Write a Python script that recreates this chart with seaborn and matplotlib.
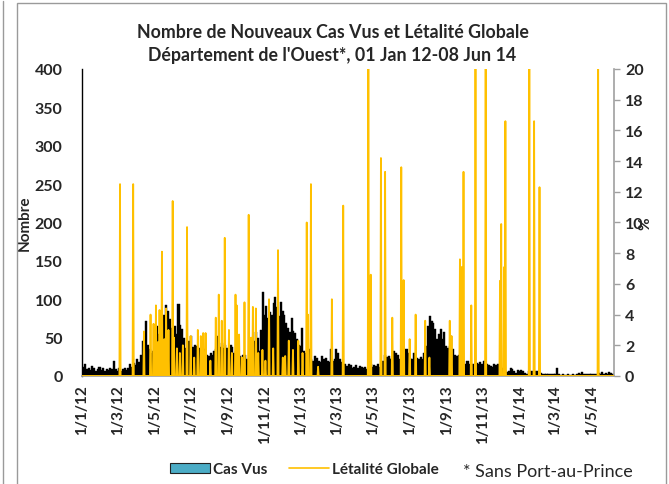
import numpy as np
import pandas as pd
import matplotlib
matplotlib.use("Agg")
import matplotlib.pyplot as plt
import seaborn as sns
from matplotlib.patches import Patch, Rectangle
from matplotlib.lines import Line2D

# ---------------- data ----------------
start_date = "2012-01-01"
n_days = 889
bin_days = 3
# Cas Vus, one value per 3-day period starting 1 Jan 2012
cas_vus = [12, 15, 9, 11, 8, 13, 10, 7, 9, 12, 8, 10, 7, 9, 8, 11, 9,
           20, 9, 7, 10, 6, 9, 11, 8, 10, 15,
           12, 17, 14, 22, 18, 28, 45, 38, 72, 40,
           35, 30, 33, 45, 65, 55, 78, 70, 80, 92,
           85, 74, 63, 60, 65, 55, 94, 67, 61, 50,
           37, 35, 45, 52, 38, 40, 39, 33, 36, 32,
           35, 33, 28, 26, 30, 28, 33, 35, 52, 38,
           43, 37, 40, 36, 33, 41, 38, 30, 33, 29,
           26, 24, 27, 28, 22, 20, 24, 35, 46, 57,
           50, 33, 60, 110, 80, 91, 75, 83, 80, 95,
           103, 90, 78, 96, 85, 80, 69, 62, 57, 75,
           59, 56, 48, 41, 39, 62, 33, 30, 28, 35,
           22, 20, 26, 24, 20, 18, 26, 22, 24, 20,
           18, 35, 20, 22, 35, 30, 22, 18, 11, 15,
           13, 16, 14, 11, 12, 14, 11, 13, 12, 10,
           12, 9, 8, 15, 12, 14, 13, 15, 12, 11,
           20, 28, 25, 26, 22, 24, 33, 30, 28, 22,
           20, 26, 25, 35, 30, 24, 22, 30, 27, 24,
           22, 25, 22, 30, 39, 65, 78, 72, 69, 61,
           48, 55, 61, 48, 57, 39, 37, 39, 52, 35,
           28, 26, 28, 26, 24, 15, 16, 20, 15, 14,
           16, 15, 17, 15, 18, 16, 20, 19, 15, 14,
           13, 12, 15, 14, 15, 11, 9, 10, 8, 5,
           6, 11, 9, 7, 4, 8, 7, 8, 6, 4,
           3, 7, 6, 7, 5, 7, 6, 5, 4, 3,
           2, 3, 2, 2, 3, 2, 3, 10, 2, 1,
           2, 1, 1, 2, 1, 1, 2, 1, 3, 4,
           3, 5, 2, 3, 2, 2, 3, 2, 3, 2,
           4, 3, 5, 3, 4, 3, 5, 4, 3, 4]

# Létalité Globale (%): days (since 1 Jan 2012) with a non-zero value, and the value
let_days = [63, 85, 103, 114, 119, 123, 126, 129, 133, 137, 140, 144, 151, 153, 158,
            163, 168, 175, 181, 187, 193, 198, 202, 206, 214, 223, 228, 233, 238,
            245, 250, 256, 258, 262, 267, 271, 278, 282, 285, 290, 294, 301, 306,
            312, 319, 327, 335, 339, 345, 352, 361, 368, 375, 377, 382, 394, 417,
            436, 478, 482, 499, 506, 518, 533, 537, 547, 557, 573, 580, 614, 617,
            631, 634, 637, 650, 657, 674, 698, 700, 705, 707, 747, 755, 764, 862]
let_vals = [12.5, 12.5, 2.9, 4.0, 3.4, 4.6, 2.2, 4.3, 8.1, 2.4, 4.4, 3.0, 11.4, 2.5, 1.8,
            1.5, 2.0, 9.7, 2.6, 1.2, 3.0, 2.6, 2.8, 2.8, 1.0, 3.8, 5.3, 3.6, 9.0,
            3.0, 1.5, 5.3, 4.6, 2.7, 1.2, 4.8, 10.5, 2.5, 4.5, 4.4, 1.5, 1.7, 1.0,
            5.0, 1.8, 8.2, 1.2, 1.3, 2.3, 1.7, 2.3, 1.5, 10.0, 4.0, 12.5, 0.6, 5.0,
            11.1, 20.0, 6.6, 14.2, 13.3, 3.8, 13.6, 6.25, 2.4, 4.0, 3.6, 1.2, 3.6, 2.6,
            7.6, 7.1, 13.3, 4.6, 20.0, 20.0, 6.2, 9.9, 7.1, 16.6, 20.0, 16.6, 12.3, 20.0]

tick_dates = ["2012-01-01", "2012-03-01", "2012-05-01", "2012-07-01", "2012-09-01",
              "2012-11-01", "2013-01-01", "2013-03-01", "2013-05-01", "2013-07-01",
              "2013-09-01", "2013-11-01", "2014-01-01", "2014-03-01", "2014-05-01"]
tick_labels = ["1/1/12", "1/3/12", "1/5/12", "1/7/12", "1/9/12", "1/11/12", "1/1/13",
               "1/3/13", "1/5/13", "1/7/13", "1/9/13", "1/11/13", "1/1/14", "1/3/14",
               "1/5/14"]

# ---------------- build tables ----------------
t0 = pd.Timestamp(start_date)
days = pd.date_range(t0, periods=n_days, freq="D")
let_series = np.zeros(n_days)
let_series[np.array(let_days)] = let_vals
df_let = pd.DataFrame({"date": days, "letalite": let_series})
bin_starts = pd.date_range(t0, periods=len(cas_vus), freq=f"{bin_days}D")
df_cas = pd.DataFrame({"date": bin_starts, "cas": cas_vus})

# ---------------- plot ----------------
sns.set_theme(style="white")
plt.rcParams["font.family"] = ["Lato", "DejaVu Sans"]

fig = plt.figure(figsize=(6.69, 4.85), dpi=100)
ax = fig.add_axes([0.1226, 0.2227, 0.7952, 0.633])

ax.bar(df_cas["date"], df_cas["cas"], width=pd.Timedelta(hours=bin_days * 24 + 10),
       align="edge", color="black", edgecolor="black", linewidth=0.3, zorder=2)
ax.set_ylim(0, 400)
ax.set_yticks(np.arange(0, 401, 50))
ax.set_xlim(t0 - pd.Timedelta(hours=12), t0 + pd.Timedelta(days=n_days - 0.5))

ax2 = ax.twinx()
sns.lineplot(data=df_let, x="date", y="letalite", ax=ax2, color="#FFC000",
             linewidth=1.3, zorder=3)
ax2.set_ylim(0, 20)
ax2.set_yticks(np.arange(0, 21, 2))
ax2.set_xlim(ax.get_xlim())

ax.set_xticks(pd.to_datetime(tick_dates))
ax.set_xticklabels(tick_labels, rotation=90, fontsize=11, fontweight="bold")
ax.tick_params(axis="x", length=0, pad=6)
ax.tick_params(axis="y", length=0, labelsize=11.5, pad=14)
for lab in ax.get_yticklabels():
    lab.set_fontweight("bold")
ax2.tick_params(axis="y", length=4, width=1, color="#A0A0A0", direction="out",
                labelsize=11.5, pad=4)
for lab in ax2.get_yticklabels():
    lab.set_fontweight("bold")
ax.set_xlabel("")
ax2.set_xlabel("")
ax.set_ylabel("Nombre", fontsize=11, fontweight="bold", labelpad=2)
ax2.set_ylabel("%", fontsize=11, fontweight="bold", labelpad=-4)

for a in (ax, ax2):
    a.spines["top"].set_visible(False)
    a.grid(False)
ax.spines["left"].set_color("black")
ax.spines["left"].set_linewidth(1.0)
ax.spines["right"].set_visible(False)
ax.spines["bottom"].set_color("#A0A0A0")
ax2.spines["left"].set_visible(False)
ax2.spines["bottom"].set_visible(False)
ax2.spines["right"].set_color("#A0A0A0")
ax2.spines["right"].set_linewidth(1.2)

fig.text(0.497, 0.934, "Nombre de Nouveaux Cas Vus et Létalité Globale",
         ha="center", va="center", fontsize=12.8, fontweight="bold")
fig.text(0.497, 0.886, "Département de l'Ouest*, 01 Jan 12-08 Jun 14",
         ha="center", va="center", fontsize=12.8, fontweight="bold")

handles = [Patch(facecolor="#4BACC6", edgecolor="#222222", linewidth=0.8),
           Line2D([0], [0], color="#FFC000", linewidth=1.2)]
fig.legend(handles, ["Cas Vus", "Létalité Globale"], loc="center",
           bbox_to_anchor=(0.455, 0.03), ncol=2, frameon=False,
           prop={"weight": "bold", "size": 11}, handlelength=2.6,
           handletextpad=0.2, columnspacing=1.4)
fig.text(0.692, 0.026, "* Sans Port-au-Prince", ha="left", va="center", fontsize=13)

fig.patches.append(Rectangle((0.026, -0.02), 0.97, 1.012, transform=fig.transFigure,
                             fill=False, edgecolor="#9A9A9A", linewidth=1.0))
fig.add_artist(Line2D([0.005, 0.005], [0.0, 0.995], transform=fig.transFigure,
                      color="#9A9A9A", linewidth=1.0))

fig.savefig("out.png", dpi=100)
